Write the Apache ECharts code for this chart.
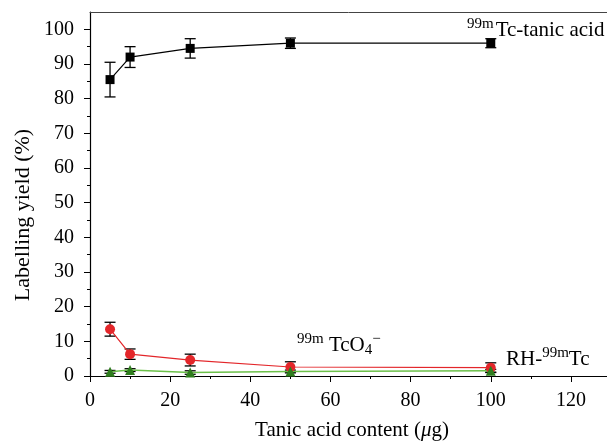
<!DOCTYPE html>
<html>
<head>
<meta charset="utf-8">
<script src="https://cdn.jsdelivr.net/npm/echarts@6/dist/echarts.min.js"></script>
<style>
  html, body { margin: 0; padding: 0; background: #fff; }
  #chart { width: 607px; height: 442px; }
</style>
</head>
<body>
<div id="chart"></div>
<script>
// tanic acid content (ug)
var xValues = [5, 10, 25, 50, 100];
// labelling yield (%) and error
var tanicYield = [85.5, 92.0, 94.5, 96.0, 96.0];
var tanicErr = [5.0, 3.0, 2.8, 1.5, 1.3];
var tco4Yield = [13.5, 6.3, 4.6, 2.6, 2.4];
var tco4Err = [2.0, 1.5, 1.7, 1.5, 1.4];
var rhYield = [1.2, 1.7, 1.0, 1.3, 1.5];
var rhErr = [0.4, 0.4, 0.5, 0.4, 0.4];
// axis ticks
var xTicks = [0, 20, 40, 60, 80, 100, 120];
var xMinor = [10, 30, 50, 70, 90, 110];
var yTicks = [0, 10, 20, 30, 40, 50, 60, 70, 80, 90, 100];
var yMinor = [5, 15, 25, 35, 45, 55, 65, 75, 85, 95];

var FONT = "Liberation Serif";
var chart = echarts.init(document.getElementById("chart"));

function pts(ys) {
  return xValues.map(function (x, i) { return [x, ys[i]]; });
}
function errData(ys, es) {
  return xValues.map(function (x, i) { return [x, ys[i] - es[i], ys[i] + es[i]]; });
}
// error bar as custom series
function errSeries(ys, es) {
  return {
    type: "custom",
    xAxisIndex: 0,
    yAxisIndex: 0,
    z: 3,
    renderItem: function (params, api) {
      var lo = api.coord([api.value(0), api.value(1)]);
      var hi = api.coord([api.value(0), api.value(2)]);
      var w = 5.5;
      var st = { stroke: "#000", lineWidth: 1.3 };
      return {
        type: "group",
        children: [
          { type: "line", shape: { x1: lo[0], y1: lo[1], x2: hi[0], y2: hi[1] }, style: st },
          { type: "line", shape: { x1: lo[0] - w, y1: lo[1], x2: lo[0] + w, y2: lo[1] }, style: st },
          { type: "line", shape: { x1: hi[0] - w, y1: hi[1], x2: hi[0] + w, y2: hi[1] }, style: st }
        ]
      };
    },
    encode: { x: 0, y: [1, 2] },
    data: errData(ys, es),
    silent: true
  };
}

function xAxisCfg(show, ticks, len, pos) {
  return {
    type: "value", min: 0, max: 129, position: pos || "bottom",
    axisLine: { show: show, onZero: false, lineStyle: { color: pos ? "#444" : "#000", width: pos ? 1 : 1.2 } },
    axisTick: ticks ? { show: true, inside: false, length: len, customValues: ticks, lineStyle: { color: "#000", width: 1 } } : { show: false },
    axisLabel: show && !pos ? { show: true, customValues: ticks, margin: 15, color: "#000", fontFamily: FONT, fontSize: 20 } : { show: false },
    splitLine: { show: false }
  };
}
function yAxisCfg(show, ticks, len) {
  return {
    type: "value", min: 0, max: 105, position: "left",
    axisLine: { show: show, onZero: false, lineStyle: { color: "#000", width: 1.2 } },
    axisTick: { show: true, inside: false, length: len, customValues: ticks, lineStyle: { color: "#000", width: 1 } },
    axisLabel: show ? { show: true, customValues: ticks, margin: 16, color: "#000", fontFamily: FONT, fontSize: 20 } : { show: false },
    splitLine: { show: false }
  };
}

var option = {
  backgroundColor: "#fff",
  animation: false,
  grid: { left: 90, top: 12, width: 517, height: 364 },
  xAxis: [xAxisCfg(true, xTicks, 6), xAxisCfg(false, xMinor, 3), xAxisCfg(true, null, 0, "top")],
  yAxis: [yAxisCfg(true, yTicks, 6), yAxisCfg(false, yMinor, 3)],
  series: [
    {
      type: "line", data: pts(tanicYield), z: 4,
      symbol: "rect", symbolSize: 9,
      lineStyle: { color: "#000", width: 1.2 },
      itemStyle: { color: "#000" }
    },
    errSeries(tanicYield, tanicErr),
    {
      type: "line", data: pts(tco4Yield), z: 4,
      symbol: "circle", symbolSize: 10,
      lineStyle: { color: "#e3262a", width: 1.2 },
      itemStyle: { color: "#e3262a" }
    },
    errSeries(tco4Yield, tco4Err),
    {
      type: "line", data: pts(rhYield), z: 4,
      symbol: "triangle", symbolSize: 10,
      lineStyle: { color: "#6cc04a", width: 1.5 },
      itemStyle: { color: "#2f7d1e" }
    },
    errSeries(rhYield, rhErr)
  ],
  graphic: [
    {
      type: "text", left: 467, top: 17,
      style: {
        text: "{s|99m}{n|Tc-tanic acid}",
        rich: {
          s: { fontFamily: FONT, fontSize: 15, fill: "#000", verticalAlign: "top", lineHeight: 24, padding: [0, 2, 0, 0] },
          n: { fontFamily: FONT, fontSize: 21, fill: "#000", verticalAlign: "bottom", lineHeight: 24 }
        }
      }
    },
    {
      type: "text", left: 297, top: 332,
      style: {
        text: "{s|99m}{n| TcO}{b|4}{s|\u2212}",
        rich: {
          s: { fontFamily: FONT, fontSize: 15, fill: "#000", verticalAlign: "top", lineHeight: 26 },
          n: { fontFamily: FONT, fontSize: 21, fill: "#000", verticalAlign: "middle", lineHeight: 26 },
          b: { fontFamily: FONT, fontSize: 15, fill: "#000", verticalAlign: "bottom", lineHeight: 26 }
        }
      }
    },
    {
      type: "text", left: 506, top: 346,
      style: {
        text: "{n|RH-}{s|99m}{n|Tc}",
        rich: {
          s: { fontFamily: FONT, fontSize: 15, fill: "#000", verticalAlign: "top", lineHeight: 24 },
          n: { fontFamily: FONT, fontSize: 21, fill: "#000", verticalAlign: "bottom", lineHeight: 24 }
        }
      }
    },
    {
      type: "text", x: 23, y: 215, rotation: Math.PI / 2,
      style: {
        text: "Labelling yield (%)", fontFamily: FONT, fontSize: 22, fill: "#000",
        letterSpacing: 1, align: "center", verticalAlign: "middle"
      }
    },
    {
      type: "text", x: 352, y: 430,
      style: {
        text: "{n|Tanic acid content (}{i|\u03bc}{n|g)}",
        align: "center", verticalAlign: "middle",
        rich: {
          n: { fontFamily: FONT, fontSize: 21, fill: "#000" },
          i: { fontFamily: FONT, fontSize: 21, fill: "#000", fontStyle: "italic" }
        }
      }
    }
  ]
};
chart.setOption(option);
</script>
</body>
</html>
